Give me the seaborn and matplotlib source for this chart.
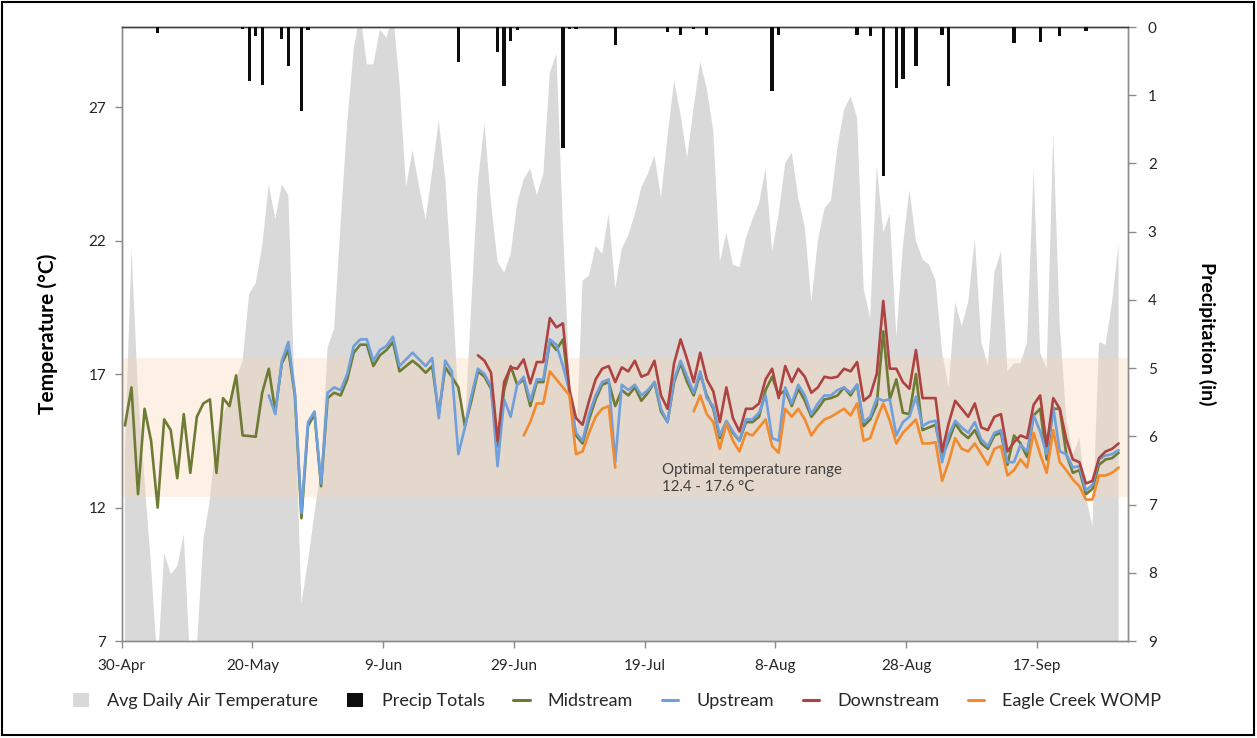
import numpy as np
import pandas as pd
import matplotlib
matplotlib.use("Agg")
import matplotlib.pyplot as plt
import seaborn as sns
from matplotlib.patches import Patch, Rectangle
from matplotlib.lines import Line2D

# ---------------- data (day 0 = 30-Apr) ----------------
air_temp = [14.0, 21.7, 16.3, 13.0, 9.8, 6.0, 10.3, 9.5, 9.8, 11.0,
            6.0, 6.8, 10.8, 12.3, 14.8, 15.5, 16.0, 16.8, 17.5, 20.0,
            20.4, 21.8, 24.1, 22.8, 24.1, 23.7, 16.0, 8.4, 10.0, 11.8,
            13.5, 18.0, 18.7, 22.7, 26.4, 29.2, 30.5, 28.6, 28.6, 29.9,
            29.6, 30.5, 27.9, 24.0, 25.4, 24.0, 22.8, 24.6, 26.5, 24.3,
            20.5, 16.0, 15.0, 19.7, 24.2, 26.4, 23.4, 21.2, 20.8, 21.5,
            23.4, 24.3, 24.7, 23.7, 24.5, 28.3, 29.0, 22.5, 16.8, 14.1,
            20.5, 20.7, 21.8, 21.5, 23.0, 20.2, 21.7, 22.2, 23.0, 24.0,
            24.5, 25.2, 23.6, 25.9, 28.0, 26.7, 25.1, 27.0, 28.7, 27.7,
            26.1, 21.2, 22.3, 21.1, 21.0, 22.1, 22.8, 23.4, 24.7, 21.6,
            23.0, 24.9, 25.3, 23.6, 22.5, 19.7, 22.0, 23.2, 23.5, 25.5,
            26.9, 27.4, 26.6, 20.2, 19.1, 24.8, 22.3, 23.0, 18.4, 21.8,
            23.9, 22.0, 21.3, 21.1, 20.5, 17.8, 16.5, 19.7, 18.8, 19.7,
            22.1, 18.2, 17.3, 20.8, 21.6, 17.1, 17.4, 17.4, 18.2, 24.7,
            17.8, 17.2, 26.0, 18.8, 15.3, 14.0, 14.6, 12.4, 11.3, 18.2,
            18.1, 19.7, 21.9]

midstream = [15.07, 16.5, 12.5, 15.7, 14.5, 12.0, 15.3, 14.9, 13.1, 15.5,
             13.3, 15.4, 15.9, 16.05, 13.3, 16.1, 15.8, 16.95, 14.7, 14.68,
             14.65, 16.3, 17.2, 15.6, 17.4, 17.9, 16.2, 11.6, 15.05, 15.5,
             12.8, 16.1, 16.3, 16.2, 16.8, 17.8, 18.1, 18.1, 17.3, 17.7,
             17.9, 18.2, 17.1, 17.3, 17.5, 17.3, 17.05, 17.3, 15.5, 17.25,
             16.9, 16.5, 15.05, 16.0, 17.1, 16.9, 16.45, 14.3, 16.4, 17.3,
             16.6, 16.8, 15.8, 16.7, 16.7, 18.2, 17.9, 18.3, 16.3, 14.7,
             14.4, 15.3, 16.05, 16.6, 16.7, 15.8, 16.4, 16.2, 16.5, 16.0,
             16.3, 16.7, 15.6, 15.2, 16.7, 17.4, 16.7, 16.2, 17.0, 16.2,
             15.7, 14.6, 15.2, 14.8, 14.5, 15.2, 15.2, 15.4, 16.4, 16.9,
             16.2, 16.4, 15.8, 16.45, 16.0, 15.4, 15.7, 16.05, 16.1, 16.2,
             16.5, 16.2, 16.6, 15.05, 15.3, 15.85, 18.6, 16.05, 16.8, 15.55,
             15.5, 17.0, 14.9, 15.0, 15.1, 13.9, 14.5, 15.15, 14.8, 14.6,
             14.9, 14.4, 14.2, 14.7, 14.8, 13.6, 14.7, 14.4, 13.9, 15.45,
             15.7, 13.8, 15.7, 15.7, 14.0, 13.3, 13.4, 12.5, 12.7, 13.6,
             13.8, 13.85, 14.05]

upstream_start = 22
upstream = [16.2, 15.5, 17.5, 18.2, 16.3, 11.8, 15.2, 15.6,
            12.9, 16.3, 16.5, 16.4, 17.0, 18.05, 18.3, 18.3, 17.5, 17.9,
            18.05, 18.4, 17.3, 17.55, 17.8, 17.55, 17.3, 17.6, 15.35, 17.5,
            17.1, 14.0, 15.0, 16.2, 17.2, 17.0, 16.55, 13.55, 16.05, 15.4,
            16.6, 16.9, 16.0, 16.8, 16.8, 18.3, 18.1, 17.3, 16.35, 14.8,
            14.5, 15.5, 16.2, 16.7, 16.8, 13.7, 16.6, 16.4, 16.6, 16.2,
            16.4, 16.7, 15.7, 15.2, 16.8, 17.5, 16.9, 16.3, 17.1, 16.1,
            15.8, 14.7, 15.25, 14.85, 14.5, 15.3, 15.3, 15.55, 16.2, 14.6,
            14.5, 16.5, 15.9, 16.6, 16.2, 15.5, 15.9, 16.2, 16.2, 16.4,
            16.5, 16.3, 16.6, 15.2, 15.4, 16.1, 16.0, 16.05, 14.7, 15.2,
            15.4, 16.15, 15.05, 15.2, 15.25, 13.7, 14.7, 15.25, 15.0, 14.8,
            15.2, 14.55, 14.3, 14.8, 14.9, 13.7, 13.7, 14.35, 14.1, 15.45,
            14.85, 14.0, 15.75, 14.1, 14.0, 13.5, 13.55, 12.65, 12.85, 13.8,
            13.95, 14.0, 14.15]

downstream_start = 54
downstream = [17.7, 17.5, 17.05, 14.5, 16.7, 17.25,
              17.2, 17.55, 16.65, 17.45, 17.45, 19.1, 18.75, 18.9, 16.4, 15.35,
              15.1, 16.0, 16.8, 17.2, 17.3, 16.7, 17.25, 17.1, 17.5, 16.9,
              17.0, 17.5, 16.2, 15.7, 17.4, 18.3, 17.55, 16.7, 17.8, 16.8,
              16.35, 15.2, 16.5, 15.35, 14.85, 15.7, 15.7, 15.9, 16.8, 17.2,
              16.1, 17.3, 16.7, 17.2, 16.9, 16.3, 16.5, 16.9, 16.85, 16.9,
              17.2, 17.1, 17.45, 16.0, 16.2, 17.0, 19.74, 17.2, 17.2, 16.7,
              16.45, 17.9, 16.1, 16.1, 16.1, 14.1, 15.15, 16.0, 15.7, 15.4,
              15.9, 15.0, 14.9, 15.4, 15.5, 14.1, 14.45, 14.7, 14.6, 15.85,
              16.2, 14.3, 16.1, 15.7, 14.55, 13.8, 13.7, 12.9, 13.0, 13.85,
              14.1, 14.2, 14.4]

womp_a_start = 61
womp_a = [14.7, 15.2, 15.9, 15.9, 17.1, 16.8, 16.5, 16.2, 14.0, 14.1,
          14.8, 15.4, 15.7, 15.8, 13.5]

womp_b_start = 87
womp_b = [15.6, 16.2, 15.5,
          15.2, 14.2, 15.15, 14.5, 14.1, 14.8, 14.7, 15.0, 15.3, 14.3,
          14.05, 15.7, 15.4, 15.7, 15.3, 14.7, 15.05, 15.3, 15.4, 15.55,
          15.7, 15.45, 15.9, 14.5, 14.6, 15.3, 15.9, 15.25, 14.4, 14.8,
          15.05, 15.3, 14.4, 14.4, 14.45, 13.0, 13.7, 14.6, 14.2, 14.1,
          14.4, 14.0, 13.6, 14.2, 14.3, 13.2, 13.4, 13.8, 13.5, 14.8,
          14.0, 13.3, 14.9, 13.7, 13.4, 13.05, 12.8, 12.3, 12.3, 13.2,
          13.2, 13.3, 13.5]

precip_day = [5, 18, 19, 20, 21, 24, 25, 27, 28, 51, 57, 58, 59, 60, 67, 68, 69,
              75, 83, 85, 87, 89, 99, 100, 112, 114, 116, 118, 119, 121, 125,
              126, 136, 140, 143, 147]
precip_in = [0.09, 0.03, 0.79, 0.13, 0.85, 0.18, 0.57, 1.23, 0.05, 0.51, 0.37,
             0.87, 0.2, 0.05, 1.78, 0.03, 0.03, 0.26, 0.08, 0.12, 0.03, 0.12,
             0.94, 0.12, 0.12, 0.13, 2.18, 0.89, 0.76, 0.57, 0.12, 0.87, 0.23,
             0.22, 0.13, 0.06]

tick_days = [0, 20, 40, 60, 80, 100, 120, 140]
tick_labels = ["30-Apr", "20-May", "9-Jun", "29-Jun", "19-Jul", "8-Aug", "28-Aug", "17-Sep"]
temp_ticks = [7, 12, 17, 22, 27]
precip_ticks = list(range(10))

optimal_low, optimal_high = 12.4, 17.6

# ---------------- style ----------------
sns.set_style("white")
plt.rcParams['font.family'] = ['Lato', 'DejaVu Sans']

C_AIR = "#D9D9D9"
C_MID = "#6E7B34"
C_UP = "#6FA0DC"
C_DOWN = "#AE4442"
C_WOMP = "#F28A2E"
C_AX = "#8C8C8C"
C_TXT = "#262626"

fig = plt.figure(figsize=(12.57, 7.38), dpi=100)
ax = fig.add_axes([0.0968, 0.1314, 0.8009, 0.832])

days = np.arange(len(air_temp)) + 0.5
ax.fill_between(days, air_temp, 0, color=C_AIR, lw=0, zorder=1)
ax.axhspan(optimal_low, optimal_high, color="#FBD5B5", alpha=0.35, lw=0, zorder=1.5)


def draw(start, vals, color, z):
    df = pd.DataFrame({"day": np.arange(start, start + len(vals)) + 0.5,
                       "temp": vals})
    sns.lineplot(data=df, x="day", y="temp", color=color, linewidth=1.9,
                 estimator=None, ax=ax, zorder=z)


draw(0, midstream, C_MID, 3)
draw(upstream_start, upstream, C_UP, 4)
draw(downstream_start, downstream, C_DOWN, 5)
draw(womp_a_start, womp_a, C_WOMP, 6)
draw(womp_b_start, womp_b, C_WOMP, 6)

ax.set_xlim(0, 154)
ax.set_ylim(7, 30)
ax.set_yticks(temp_ticks)
ax.set_xticks(tick_days)
ax.set_xticklabels(tick_labels)
ax.set_xlabel("")
ax.set_ylabel("Temperature (°C)", fontsize=15, fontweight="bold", color="black")
ax.yaxis.set_label_coords(-0.063, 0.5)
ax.tick_params(axis="both", labelsize=11, colors=C_TXT, length=5, width=1,
               direction="out", color=C_AX)
ax.tick_params(axis="x", pad=8)
ax.tick_params(axis="y", pad=6, left=True)
ax.tick_params(axis="x", bottom=True)

ax.text(82.7, 13.1, "Optimal temperature range\n12.4 - 17.6 °C", fontsize=10.8,
        color="#404040", va="center", ha="left", linespacing=1.3, zorder=7)

ax2 = ax.twinx()
ax2.bar(np.array(precip_day) + 0.5, precip_in, width=0.5, color="#0D0D0D",
        lw=0, zorder=3)
ax2.set_ylim(9, 0)
ax2.set_yticks(precip_ticks)
ax2.set_ylabel("Precipitation (in)", fontsize=14, fontweight="bold",
               color="black", rotation=270, va="bottom")
ax2.yaxis.set_label_coords(1.069, 0.5)
ax2.tick_params(axis="y", labelsize=11, colors=C_TXT, length=6, width=1,
                direction="out", color=C_AX, pad=8, right=True)

for a in (ax, ax2):
    for s in ("left", "right", "bottom"):
        a.spines[s].set_color(C_AX)
        a.spines[s].set_linewidth(1)
    a.spines["top"].set_color("#404040")
    a.spines["top"].set_linewidth(1)

handles = [Patch(facecolor=C_AIR, edgecolor="none"),
           Patch(facecolor="#0D0D0D", edgecolor="none"),
           Line2D([], [], color=C_MID, lw=2.2),
           Line2D([], [], color=C_UP, lw=2.2),
           Line2D([], [], color=C_DOWN, lw=2.2),
           Line2D([], [], color=C_WOMP, lw=2.2)]
labels = ["Avg Daily Air Temperature", "Precip Totals", "Midstream",
          "Upstream", "Downstream", "Eagle Creek WOMP"]
fig.legend(handles, labels, loc="center", bbox_to_anchor=(0.491, 0.05),
           ncol=6, frameon=False, fontsize=13, handlelength=0.9,
           handleheight=0.8, handletextpad=1.0, columnspacing=1.6,
           labelcolor=C_TXT)

fig.patches.append(Rectangle((0.0015, 0.004), 0.996, 0.993,
                             transform=fig.transFigure, fill=False,
                             edgecolor="black", linewidth=1.5))

fig.savefig("out.png", dpi=100)
